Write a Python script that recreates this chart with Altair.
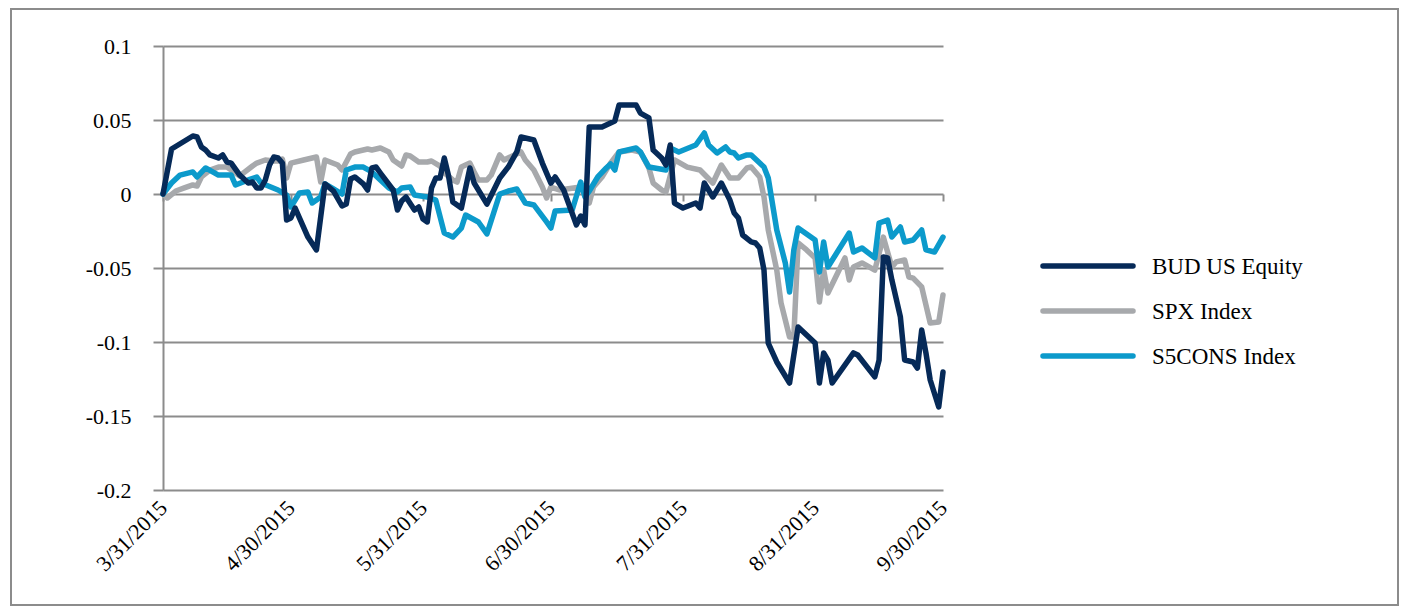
import altair as alt
import pandas as pd

START = pd.Timestamp("2015-03-31")

series_names = ["BUD US Equity", "SPX Index", "S5CONS Index"]
series_colors = ["#062a58", "#a7a9ac", "#0c9acb"]
draw_order = ["SPX Index", "S5CONS Index", "BUD US Equity"]

month_ends = ["2015-03-31", "2015-04-30", "2015-05-31", "2015-06-30",
              "2015-07-31", "2015-08-31", "2015-09-30"]
y_ticks = [0.1, 0.05, 0, -0.05, -0.1, -0.15, -0.2]

# days after 3/31/2015 and cumulative return
bud_days = [0, 2, 7, 8, 9, 10, 11, 13, 14, 15, 16, 18, 20, 21, 22, 23, 24, 25, 26, 27,
            28, 29, 30, 31, 34, 36, 37, 38, 40, 42, 43, 44, 45, 47, 48, 49, 50, 51, 54, 55,
            56, 57, 59, 60, 61, 62, 63, 64, 65, 66, 67, 68, 70, 72, 73, 76, 79, 81, 83, 84,
            87, 89, 91, 92, 94, 97, 98, 99, 100, 103, 106, 107, 111, 112, 114, 115, 117, 118, 119, 120,
            122, 125, 126, 127, 128, 129, 131, 133, 134, 135, 136, 138, 139, 140, 141, 142, 144, 147, 149, 151,
            153, 154, 155, 156, 157, 162, 163, 167, 168, 169, 170, 171, 173, 174, 176, 177, 178, 179, 180, 182,
            183]
bud_vals = [0.0, 0.0304, 0.0392, 0.0385, 0.0318, 0.0297, 0.0264, 0.0243, 0.0264, 0.0216,
            0.0209, 0.0128, 0.0074, 0.0081, 0.0041, 0.0041, 0.0095, 0.0196, 0.0250, 0.0243,
            0.0209, -0.0176, -0.0162, -0.0095, -0.0291, -0.0378, -0.0155, 0.0068, 0.0020, -0.0081,
            -0.0068, 0.0101, 0.0115, 0.0068, 0.0027, 0.0176, 0.0182, 0.0142, 0.0027, -0.0108,
            -0.0047, -0.0020, -0.0108, -0.0088, -0.0169, -0.0189, 0.0041, 0.0108, 0.0108, 0.0243,
            0.0122, -0.0054, -0.0095, 0.0176, 0.0074, -0.0068, 0.0108, 0.0182, 0.0284, 0.0385,
            0.0365, 0.0209, 0.0074, 0.0115, 0.0027, -0.0209, -0.0149, -0.0209, 0.0453, 0.0453,
            0.0493, 0.0601, 0.0601, 0.0547, 0.0514, 0.0297, 0.0243, 0.0196, 0.0331, -0.0061,
            -0.0095, -0.0061, -0.0095, 0.0074, 0.0027, -0.0020, 0.0074, -0.0041, -0.0128, -0.0162,
            -0.0277, -0.0324, -0.0331, -0.0365, -0.0514, -0.1007, -0.1135, -0.1277, -0.0899, -0.0953,
            -0.1007, -0.1277, -0.1074, -0.1122, -0.1277, -0.1074, -0.1088, -0.1236, -0.1122, -0.0426,
            -0.0432, -0.0581, -0.0831, -0.1122, -0.1135, -0.1176, -0.0919, -0.1074, -0.1257, -0.1439,
            -0.1203]

spx_days = [0, 1, 3, 5, 7, 8, 9, 11, 13, 15, 17, 18, 21, 22, 24, 26, 27, 28, 29, 30,
            33, 36, 37, 38, 41, 42, 44, 45, 48, 49, 51, 53, 54, 56, 57, 58, 60, 62, 63, 65,
            66, 68, 69, 70, 72, 73, 74, 76, 77, 79, 80, 84, 85, 87, 89, 90, 91, 93, 98, 100,
            101, 103, 105, 107, 110, 112, 114, 115, 117, 118, 120, 123, 126, 129, 131, 133, 135, 137, 138, 140,
            141, 142, 144, 145, 147, 148, 149, 151, 153, 154, 155, 156, 160, 161, 162, 164, 167, 169, 171, 172,
            174, 175, 176, 178, 180, 182, 183]
spx_vals = [0.0, -0.0027, 0.0020, 0.0041, 0.0061, 0.0054, 0.0115, 0.0162, 0.0182, 0.0182,
            0.0142, 0.0122, 0.0189, 0.0209, 0.0230, 0.0223, 0.0223, 0.0236, 0.0108, 0.0209,
            0.0230, 0.0250, 0.0081, 0.0230, 0.0196, 0.0162, 0.0270, 0.0284, 0.0304, 0.0297,
            0.0311, 0.0284, 0.0230, 0.0189, 0.0264, 0.0257, 0.0216, 0.0216, 0.0223, 0.0189,
            0.0142, 0.0095, 0.0081, 0.0182, 0.0209, 0.0149, 0.0095, 0.0095, 0.0128, 0.0264,
            0.0230, 0.0284, 0.0230, 0.0162, 0.0047, -0.0027, 0.0047, 0.0027, 0.0047, -0.0061,
            0.0047, 0.0115, 0.0209, 0.0284, 0.0297, 0.0284, 0.0176, 0.0074, 0.0027, 0.0014,
            0.0230, 0.0182, 0.0162, 0.0074, 0.0196, 0.0108, 0.0108, 0.0176, 0.0182, 0.0115,
            -0.0020, -0.0243, -0.0514, -0.0736, -0.0966, -0.0966, -0.0331, -0.0378, -0.0432, -0.0730,
            -0.0514, -0.0669, -0.0432, -0.0581, -0.0493, -0.0466, -0.0514, -0.0291, -0.0493, -0.0459,
            -0.0446, -0.0561, -0.0568, -0.0628, -0.0872, -0.0865, -0.0682]

s5cons_days = [0, 2, 4, 7, 8, 10, 13, 16, 17, 20, 22, 23, 27, 29, 30, 32, 34, 35, 37, 38,
               40, 42, 43, 45, 47, 49, 51, 53, 55, 56, 58, 59, 62, 64, 66, 68, 70, 71, 74, 76,
               79, 81, 83, 85, 87, 90, 91, 92, 96, 98, 99, 100, 102, 104, 105, 106, 107, 109, 111, 112,
               114, 118, 119, 121, 125, 127, 128, 130, 132, 133, 134, 135, 137, 138, 141, 142, 144, 146, 147, 148,
               149, 153, 154, 155, 156, 161, 162, 164, 167, 168, 170, 171, 173, 174, 176, 178, 179, 181, 183]
s5cons_vals = [0.0, 0.0074, 0.0128, 0.0149, 0.0115, 0.0176, 0.0128, 0.0128, 0.0061, 0.0095,
               0.0115, 0.0074, 0.0027, -0.0007, -0.0088, 0.0007, 0.0014, -0.0061, -0.0020, 0.0068,
               0.0034, 0.0000, 0.0162, 0.0182, 0.0182, 0.0149, 0.0095, 0.0041, 0.0014, 0.0041,
               0.0047, -0.0007, -0.0020, -0.0041, -0.0264, -0.0291, -0.0230, -0.0142, -0.0189, -0.0270,
               0.0000, 0.0020, 0.0034, -0.0061, -0.0074, -0.0189, -0.0230, -0.0115, -0.0108, 0.0081,
               -0.0020, 0.0020, 0.0115, 0.0176, 0.0203, 0.0162, 0.0284, 0.0297, 0.0311, 0.0284,
               0.0182, 0.0162, 0.0311, 0.0284, 0.0331, 0.0412, 0.0331, 0.0277, 0.0318, 0.0284,
               0.0277, 0.0243, 0.0264, 0.0264, 0.0182, 0.0108, -0.0243, -0.0466, -0.0662, -0.0378,
               -0.0230, -0.0311, -0.0527, -0.0324, -0.0493, -0.0264, -0.0392, -0.0365, -0.0432, -0.0196,
               -0.0176, -0.0291, -0.0223, -0.0324, -0.0311, -0.0243, -0.0378, -0.0392, -0.0291]


def series_frame(name, days, vals):
    return pd.DataFrame({
        "series": name,
        "date": START + pd.to_timedelta(days, unit="D"),
        "value": vals,
    })


df = pd.concat([
    series_frame("BUD US Equity", bud_days, bud_vals),
    series_frame("SPX Index", spx_days, spx_vals),
    series_frame("S5CONS Index", s5cons_days, s5cons_vals),
], ignore_index=True)


def dt(s):
    t = pd.Timestamp(s)
    return alt.DateTime(year=t.year, month=t.month, date=t.day)


AXIS_GRAY = "#8c8c8c"
FONT = "Liberation Serif"
W, H = 780, 444

x_scale = alt.Scale(domain=[dt(month_ends[0]), dt(month_ends[-1])])
y_scale = alt.Scale(domain=[-0.2, 0.1], nice=False, zero=False)
color_scale = alt.Scale(domain=series_names, range=series_colors)

x_label_axis = alt.Axis(
    orient="bottom", values=[dt(m) for m in month_ends], format="%-m/%-d/%Y", title=None,
    labelAngle=-45, labelAlign="right", labelBaseline="middle", labelPadding=14,
    labelFont=FONT, labelFontSize=22, labelColor="black",
    labelOverlap=False, labelFlush=False, labelBound=False,
    domain=False, ticks=False, grid=False,
)
# month ticks hang off the zero line
x_tick_axis = alt.Axis(
    orient="bottom", values=[dt(m) for m in month_ends], title=None, labels=False,
    domain=False, grid=False, ticks=True, tickSize=7, tickWidth=2,
    tickColor=AXIS_GRAY, offset=-(H * 0.2 / 0.3),
)
y_axis = alt.Axis(
    orient="left", values=y_ticks, title=None,
    labelExpr="datum.value == 0 ? '0' : '' + datum.value",
    labelFont=FONT, labelFontSize=22, labelColor="black", labelPadding=22,
    domain=True, domainColor=AXIS_GRAY, domainWidth=2,
    ticks=True, tickSize=10, tickColor=AXIS_GRAY, tickWidth=2,
    grid=True, gridColor=AXIS_GRAY, gridWidth=2,
)

layers = []
for i, name in enumerate(draw_order):
    layers.append(
        alt.Chart(df).transform_filter(alt.datum.series == name)
        .mark_line(strokeWidth=5.5, strokeJoin="round", strokeCap="round")
        .encode(
            x=alt.X("date:T", scale=x_scale, axis=x_label_axis if i == 0 else None),
            y=alt.Y("value:Q", scale=y_scale, axis=y_axis),
            color=alt.Color("series:N", scale=color_scale, legend=None),
        )
    )

ticks_df = pd.DataFrame({"date": pd.to_datetime(month_ends), "value": 0.0})
tick_layer = alt.Chart(ticks_df).mark_point(opacity=0).encode(
    x=alt.X("date:T", scale=x_scale, axis=x_tick_axis),
    y=alt.Y("value:Q", scale=y_scale, axis=y_axis),
)

# legend: swatch line plus label per series
legend_layers = []
for i, name in enumerate(series_names):
    row_y = 220 + 45 * i
    ldf = pd.DataFrame({"series": [name]})
    legend_layers.append(
        alt.Chart(ldf).mark_rule(strokeWidth=5.5, strokeCap="round").encode(
            x=alt.value(880), x2=alt.value(970), y=alt.value(row_y),
            color=alt.Color("series:N", scale=color_scale, legend=None),
        )
    )
    legend_layers.append(
        alt.Chart(ldf).mark_text(align="left", baseline="middle", font=FONT,
                                 fontSize=23, color="black").encode(
            x=alt.value(989), y=alt.value(row_y + 1), text="series:N",
        )
    )

frame = alt.Chart(pd.DataFrame({"k": [0]})).mark_rect(
    fillOpacity=0, stroke=AXIS_GRAY, strokeWidth=2
).encode(
    x=alt.value(-152), x2=alt.value(1235), y=alt.value(-37), y2=alt.value(559),
)

chart = alt.layer(frame, tick_layer, *layers, *legend_layers).resolve_axis(
    x="independent"
).properties(
    width=W, height=H,
    padding={"left": 163, "top": 46, "right": 1402 - 163 - W, "bottom": 611 - 46 - H},
    autosize=alt.AutoSizeParams(type="none"),
    background="white",
).configure_view(strokeWidth=0)

chart.save("out.html", embed_options={"renderer": "svg", "actions": False})
